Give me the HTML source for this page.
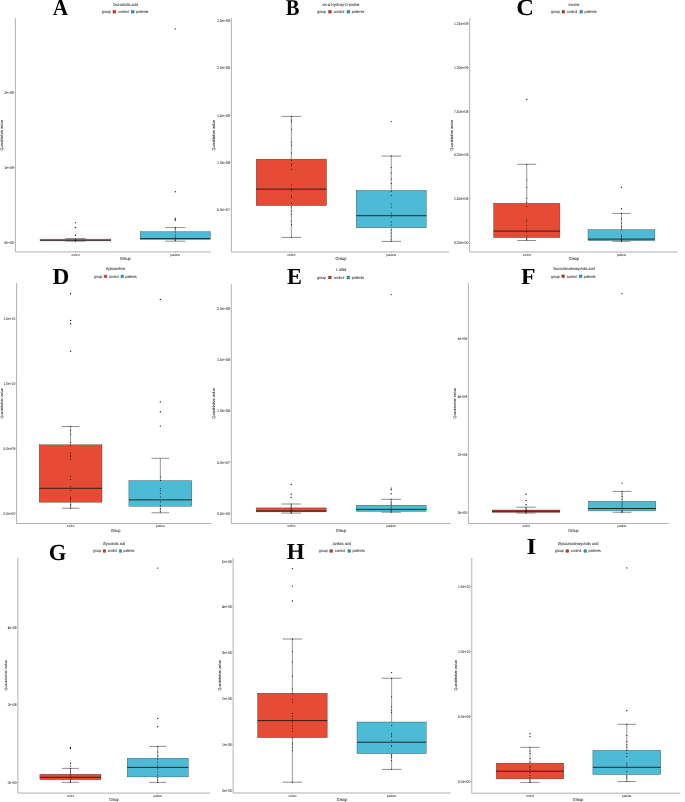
<!DOCTYPE html>
<html><head><meta charset="utf-8"><style>
html,body{margin:0;padding:0;background:#fff;}
svg{display:block;will-change:transform;}
text{text-rendering:geometricPrecision;}
.t{font-family:"Liberation Sans",sans-serif;font-size:3.5px;fill:#2a2a2a;stroke:#2a2a2a;stroke-width:0.04px;}
.t2{font-family:"Liberation Sans",sans-serif;font-size:3.5px;fill:#262626;stroke:#262626;stroke-width:0.04px;}
.x{font-family:"Liberation Sans",sans-serif;font-size:2.7px;fill:#333;stroke:#333;stroke-width:0.04px;}
.a{font-family:"Liberation Sans",sans-serif;font-size:3.85px;fill:#222;stroke:#222;stroke-width:0.05px;}
.L{font-family:"Liberation Serif",serif;font-weight:bold;fill:#000;}
</style></head><body>
<svg width="685" height="802" viewBox="0 0 685 802">
<rect width="685" height="802" fill="#fff"/>
<path d="M15.4 18.1V251.9H211" fill="none" stroke="#a8a8a8" stroke-width="0.9"/>
<path d="M14.2 242.4H15.4" stroke="#a8a8a8" stroke-width="0.6"/>
<text transform="translate(14 243.85) scale(1 1.15)" class="t" text-anchor="end">0e+00</text>
<path d="M14.2 167.4H15.4" stroke="#a8a8a8" stroke-width="0.6"/>
<text transform="translate(14 168.85) scale(1 1.15)" class="t" text-anchor="end">1e+09</text>
<path d="M14.2 92.5H15.4" stroke="#a8a8a8" stroke-width="0.6"/>
<text transform="translate(14 93.95) scale(1 1.15)" class="t" text-anchor="end">2e+09</text>
<path d="M75.45 251.9V253.1" stroke="#a8a8a8" stroke-width="0.6"/>
<text transform="translate(75.45 255.5) scale(1 1.15)" class="x" text-anchor="middle">control</text>
<path d="M175.25 251.9V253.1" stroke="#a8a8a8" stroke-width="0.6"/>
<text transform="translate(175.25 255.5) scale(1 1.15)" class="x" text-anchor="middle">patients</text>
<text transform="translate(125.4 259.85) scale(1 1.15)" class="a" text-anchor="middle">Group</text>
<text transform="translate(2.95 135.3) rotate(-90) scale(1 1)" text-anchor="middle" class="a">Quantitative value</text>
<path d="M75.45 238.6V239.1M75.45 240.9V241.1" stroke="#333" stroke-width="0.5"/>
<path d="M65.25 238.6H85.65M65.25 241.1H85.65" stroke="#444" stroke-width="0.6"/>
<rect x="40.05" y="239.1" width="70.8" height="1.8" fill="#a07a74" stroke="#333" stroke-width="0.35"/>
<path d="M40.05 240.3H110.85" stroke="#3a3232" stroke-width="0.9"/>
<circle cx="75.45" cy="239" r="0.5"/>
<circle cx="75.45" cy="240" r="0.5"/>
<circle cx="75.45" cy="241" r="0.5"/>
<circle cx="75.45" cy="222.6" r="0.7" fill="#222"/>
<circle cx="75.45" cy="227.5" r="0.7" fill="#222"/>
<circle cx="75.45" cy="235.4" r="0.7" fill="#222"/>
<path d="M175.25 227.6V231.7M175.25 239.3V241.2" stroke="#333" stroke-width="0.5"/>
<path d="M165.15 227.6H185.35M165.15 241.2H185.35" stroke="#444" stroke-width="0.6"/>
<rect x="140.2" y="231.7" width="70.1" height="7.6" fill="#4DBBD5" stroke="#333" stroke-width="0.35"/>
<path d="M140.2 238.6H210.3" stroke="#1a1a1a" stroke-width="0.9"/>
<circle cx="175.25" cy="227.6" r="0.5"/>
<circle cx="175.25" cy="229" r="0.5"/>
<circle cx="175.25" cy="232" r="0.5"/>
<circle cx="175.25" cy="235" r="0.5"/>
<circle cx="175.25" cy="237" r="0.5"/>
<circle cx="175.25" cy="239" r="0.5"/>
<circle cx="175.25" cy="240.5" r="0.5"/>
<circle cx="175.25" cy="28.9" r="0.7" fill="#222"/>
<circle cx="175.25" cy="191.7" r="0.7" fill="#222"/>
<circle cx="175.25" cy="218.1" r="0.7" fill="#222"/>
<circle cx="175.25" cy="219.3" r="0.7" fill="#222"/>
<circle cx="175.25" cy="220.2" r="0.7" fill="#222"/>
<text transform="translate(125.4 6.05) scale(1 1.15)" class="t2" text-anchor="middle">Taurocholic acid</text>
<text transform="translate(101.8 13.25) scale(1 1.15)" class="t2">group</text>
<rect x="112.9" y="10.35" width="3" height="2.9" rx="0.45" fill="#c0392b" stroke="#7a2418" stroke-width="0.25"/>
<text transform="translate(118.2 13.25) scale(1 1.15)" class="t2">control</text>
<rect x="131.2" y="10.35" width="3" height="2.9" rx="0.45" fill="#2f95b0" stroke="#1c5f70" stroke-width="0.25"/>
<text transform="translate(136.1 13.25) scale(1 1.15)" class="t2">patients</text>
<text transform="translate(52.69 14.9) scale(0.94 1)" class="L" font-size="22.6">A</text>
<path d="M231.4 18V252H449" fill="none" stroke="#a8a8a8" stroke-width="0.9"/>
<path d="M230.2 20.7H231.4" stroke="#a8a8a8" stroke-width="0.6"/>
<text transform="translate(230 22.15) scale(1.01 1.15)" class="t" text-anchor="end">2.5e+08</text>
<path d="M230.2 68H231.4" stroke="#a8a8a8" stroke-width="0.6"/>
<text transform="translate(230 69.45) scale(1.01 1.15)" class="t" text-anchor="end">2.0e+08</text>
<path d="M230.2 115.3H231.4" stroke="#a8a8a8" stroke-width="0.6"/>
<text transform="translate(230 116.75) scale(1.01 1.15)" class="t" text-anchor="end">1.5e+08</text>
<path d="M230.2 162.6H231.4" stroke="#a8a8a8" stroke-width="0.6"/>
<text transform="translate(230 164.05) scale(1.01 1.15)" class="t" text-anchor="end">1.0e+08</text>
<path d="M230.2 209.9H231.4" stroke="#a8a8a8" stroke-width="0.6"/>
<text transform="translate(230 211.35) scale(1.01 1.15)" class="t" text-anchor="end">5.0e+07</text>
<path d="M291.35 252V253.2" stroke="#a8a8a8" stroke-width="0.6"/>
<text transform="translate(291.35 255.5) scale(1.01 1.15)" class="x" text-anchor="middle">control</text>
<path d="M391.25 252V253.2" stroke="#a8a8a8" stroke-width="0.6"/>
<text transform="translate(391.25 255.5) scale(1.01 1.15)" class="x" text-anchor="middle">patients</text>
<text transform="translate(341 259.85) scale(1.01 1.15)" class="a" text-anchor="middle">Group</text>
<text transform="translate(215.35 135.3) rotate(-90) scale(1 1.01)" text-anchor="middle" class="a">Quantitative value</text>
<path d="M291.35 116.4V159.1M291.35 205.6V237.4" stroke="#333" stroke-width="0.5"/>
<path d="M281.5 116.4H301.2M281.5 237.4H301.2" stroke="#444" stroke-width="0.6"/>
<rect x="256.2" y="159.1" width="70.3" height="46.5" fill="#E64B35" stroke="#333" stroke-width="0.35"/>
<path d="M256.2 189.1H326.5" stroke="#1a1a1a" stroke-width="0.9"/>
<circle cx="291.35" cy="116.4" r="0.5"/>
<circle cx="291.35" cy="120.1" r="0.5"/>
<circle cx="291.35" cy="122.1" r="0.5"/>
<circle cx="291.35" cy="129.3" r="0.5"/>
<circle cx="291.35" cy="142" r="0.5"/>
<circle cx="291.35" cy="145.3" r="0.5"/>
<circle cx="291.35" cy="152.9" r="0.5"/>
<circle cx="291.35" cy="160.5" r="0.5"/>
<circle cx="291.35" cy="163.8" r="0.5"/>
<circle cx="291.35" cy="165.5" r="0.5"/>
<circle cx="291.35" cy="169.2" r="0.5"/>
<circle cx="291.35" cy="184.9" r="0.5"/>
<circle cx="291.35" cy="188.7" r="0.5"/>
<circle cx="291.35" cy="190.8" r="0.5"/>
<circle cx="291.35" cy="195.8" r="0.5"/>
<circle cx="291.35" cy="197.5" r="0.5"/>
<circle cx="291.35" cy="203.4" r="0.5"/>
<circle cx="291.35" cy="206.7" r="0.5"/>
<circle cx="291.35" cy="211" r="0.5"/>
<circle cx="291.35" cy="214.3" r="0.5"/>
<circle cx="291.35" cy="221" r="0.5"/>
<circle cx="291.35" cy="224.4" r="0.5"/>
<circle cx="291.35" cy="237.4" r="0.5"/>
<path d="M391.25 156.1V190.4M391.25 227.8V241.4" stroke="#333" stroke-width="0.5"/>
<path d="M381.45 156.1H401.05M381.45 241.4H401.05" stroke="#444" stroke-width="0.6"/>
<rect x="356.2" y="190.4" width="70.1" height="37.4" fill="#4DBBD5" stroke="#333" stroke-width="0.35"/>
<path d="M356.2 215.7H426.3" stroke="#1a1a1a" stroke-width="0.9"/>
<circle cx="391.25" cy="155.8" r="0.5"/>
<circle cx="391.25" cy="167.4" r="0.5"/>
<circle cx="391.25" cy="173" r="0.5"/>
<circle cx="391.25" cy="179" r="0.5"/>
<circle cx="391.25" cy="183.5" r="0.5"/>
<circle cx="391.25" cy="191.5" r="0.5"/>
<circle cx="391.25" cy="195.5" r="0.5"/>
<circle cx="391.25" cy="204" r="0.5"/>
<circle cx="391.25" cy="207" r="0.5"/>
<circle cx="391.25" cy="213" r="0.5"/>
<circle cx="391.25" cy="215" r="0.5"/>
<circle cx="391.25" cy="217" r="0.5"/>
<circle cx="391.25" cy="222" r="0.5"/>
<circle cx="391.25" cy="225" r="0.5"/>
<circle cx="391.25" cy="230" r="0.5"/>
<circle cx="391.25" cy="233" r="0.5"/>
<circle cx="391.25" cy="236" r="0.5"/>
<circle cx="391.25" cy="239" r="0.5"/>
<circle cx="391.25" cy="241.3" r="0.5"/>
<circle cx="391.25" cy="121.6" r="0.7" fill="#222"/>
<text transform="translate(341 6.35) scale(1.01 1.15)" class="t2" text-anchor="middle">cis-4-Hydroxy-D-proline</text>
<text transform="translate(317.2 13.25) scale(1.01 1.15)" class="t2">group</text>
<rect x="328.41" y="10.35" width="3.03" height="2.9" rx="0.45" fill="#c0392b" stroke="#7a2418" stroke-width="0.25"/>
<text transform="translate(333.76 13.25) scale(1.01 1.15)" class="t2">control</text>
<rect x="346.89" y="10.35" width="3.03" height="2.9" rx="0.45" fill="#2f95b0" stroke="#1c5f70" stroke-width="0.25"/>
<text transform="translate(351.84 13.25) scale(1.01 1.15)" class="t2">patients</text>
<text transform="translate(285.69 14.9) scale(0.91 1)" class="L" font-size="22.5">B</text>
<path d="M469.7 18.3V252H677.6" fill="none" stroke="#a8a8a8" stroke-width="0.9"/>
<path d="M468.5 23.9H469.7" stroke="#a8a8a8" stroke-width="0.6"/>
<text transform="translate(468.3 25.35) scale(0.97 1.15)" class="t" text-anchor="end">1.25e+09</text>
<path d="M468.5 67.6H469.7" stroke="#a8a8a8" stroke-width="0.6"/>
<text transform="translate(468.3 69.05) scale(0.97 1.15)" class="t" text-anchor="end">1.00e+09</text>
<path d="M468.5 111.3H469.7" stroke="#a8a8a8" stroke-width="0.6"/>
<text transform="translate(468.3 112.75) scale(0.97 1.15)" class="t" text-anchor="end">7.50e+08</text>
<path d="M468.5 155H469.7" stroke="#a8a8a8" stroke-width="0.6"/>
<text transform="translate(468.3 156.45) scale(0.97 1.15)" class="t" text-anchor="end">5.00e+08</text>
<path d="M468.5 198.7H469.7" stroke="#a8a8a8" stroke-width="0.6"/>
<text transform="translate(468.3 200.15) scale(0.97 1.15)" class="t" text-anchor="end">2.50e+08</text>
<path d="M468.5 242.4H469.7" stroke="#a8a8a8" stroke-width="0.6"/>
<text transform="translate(468.3 243.85) scale(0.97 1.15)" class="t" text-anchor="end">0.00e+00</text>
<path d="M526.75 252V253.2" stroke="#a8a8a8" stroke-width="0.6"/>
<text transform="translate(526.75 255.5) scale(0.97 1.15)" class="x" text-anchor="middle">control</text>
<path d="M621.45 252V253.2" stroke="#a8a8a8" stroke-width="0.6"/>
<text transform="translate(621.45 255.5) scale(0.97 1.15)" class="x" text-anchor="middle">patients</text>
<text transform="translate(574 259.85) scale(0.97 1.15)" class="a" text-anchor="middle">Group</text>
<text transform="translate(452.75 135.3) rotate(-90) scale(1 0.97)" text-anchor="middle" class="a">Quantitative value</text>
<path d="M526.75 164.3V203.3M526.75 237.6V240.5" stroke="#333" stroke-width="0.5"/>
<path d="M517.35 164.3H536.15M517.35 240.5H536.15" stroke="#444" stroke-width="0.6"/>
<rect x="493.6" y="203.3" width="66.3" height="34.3" fill="#E64B35" stroke="#333" stroke-width="0.35"/>
<path d="M493.6 231.1H559.9" stroke="#1a1a1a" stroke-width="0.9"/>
<circle cx="526.75" cy="164.3" r="0.5"/>
<circle cx="526.75" cy="180" r="0.5"/>
<circle cx="526.75" cy="187.2" r="0.5"/>
<circle cx="526.75" cy="198.2" r="0.5"/>
<circle cx="526.75" cy="202.6" r="0.5"/>
<circle cx="526.75" cy="206.6" r="0.5"/>
<circle cx="526.75" cy="219.3" r="0.5"/>
<circle cx="526.75" cy="221.5" r="0.5"/>
<circle cx="526.75" cy="225.2" r="0.5"/>
<circle cx="526.75" cy="228.8" r="0.5"/>
<circle cx="526.75" cy="231.8" r="0.5"/>
<circle cx="526.75" cy="236.1" r="0.5"/>
<circle cx="526.75" cy="238.3" r="0.5"/>
<circle cx="526.75" cy="239.8" r="0.5"/>
<circle cx="526.75" cy="99.4" r="0.7" fill="#222"/>
<path d="M621.45 213.4V229.6M621.45 240.6V241.3" stroke="#333" stroke-width="0.5"/>
<path d="M612.15 213.4H630.75M612.15 241.3H630.75" stroke="#444" stroke-width="0.6"/>
<rect x="588" y="229.6" width="66.9" height="11" fill="#4DBBD5" stroke="#333" stroke-width="0.35"/>
<path d="M588 239.1H654.9" stroke="#1a1a1a" stroke-width="0.9"/>
<circle cx="621.45" cy="213.4" r="0.5"/>
<circle cx="621.45" cy="219" r="0.5"/>
<circle cx="621.45" cy="223" r="0.5"/>
<circle cx="621.45" cy="226.5" r="0.5"/>
<circle cx="621.45" cy="230" r="0.5"/>
<circle cx="621.45" cy="235" r="0.5"/>
<circle cx="621.45" cy="236.5" r="0.5"/>
<circle cx="621.45" cy="238" r="0.5"/>
<circle cx="621.45" cy="239.5" r="0.5"/>
<circle cx="621.45" cy="240.5" r="0.5"/>
<circle cx="621.45" cy="241.3" r="0.5"/>
<circle cx="621.45" cy="187.3" r="0.7" fill="#222"/>
<circle cx="621.45" cy="208.8" r="0.7" fill="#222"/>
<text transform="translate(574 6.05) scale(0.97 1.15)" class="t2" text-anchor="middle">Inosine</text>
<text transform="translate(551.1 13.25) scale(0.97 1.15)" class="t2">group</text>
<rect x="561.92" y="10.35" width="2.92" height="2.9" rx="0.45" fill="#c0392b" stroke="#7a2418" stroke-width="0.25"/>
<text transform="translate(567.09 13.25) scale(0.97 1.15)" class="t2">control</text>
<rect x="579.76" y="10.35" width="2.92" height="2.9" rx="0.45" fill="#2f95b0" stroke="#1c5f70" stroke-width="0.25"/>
<text transform="translate(584.54 13.25) scale(0.97 1.15)" class="t2">patients</text>
<text transform="translate(516.17 15.3) scale(1.06 1)" class="L" font-size="23.1">C</text>
<path d="M16.6 283V523.5H211.3" fill="none" stroke="#a8a8a8" stroke-width="0.9"/>
<path d="M15.4 318.7H16.6" stroke="#a8a8a8" stroke-width="0.6"/>
<text transform="translate(15.2 320.15) scale(0.92 1.15)" class="t" text-anchor="end">1.5e+10</text>
<path d="M15.4 383.6H16.6" stroke="#a8a8a8" stroke-width="0.6"/>
<text transform="translate(15.2 385.05) scale(0.92 1.15)" class="t" text-anchor="end">1.0e+10</text>
<path d="M15.4 448.5H16.6" stroke="#a8a8a8" stroke-width="0.6"/>
<text transform="translate(15.2 449.95) scale(0.92 1.15)" class="t" text-anchor="end">5.0e+09</text>
<path d="M15.4 513.4H16.6" stroke="#a8a8a8" stroke-width="0.6"/>
<text transform="translate(15.2 514.85) scale(0.92 1.15)" class="t" text-anchor="end">0.0e+00</text>
<path d="M70.6 523.5V524.7" stroke="#a8a8a8" stroke-width="0.6"/>
<text transform="translate(70.6 527.2) scale(0.92 1.15)" class="x" text-anchor="middle">control</text>
<path d="M160.35 523.5V524.7" stroke="#a8a8a8" stroke-width="0.6"/>
<text transform="translate(160.35 527.2) scale(0.92 1.15)" class="x" text-anchor="middle">patients</text>
<text transform="translate(115.6 531.75) scale(0.92 1.15)" class="a" text-anchor="middle">Group</text>
<text transform="translate(3.1 403.4) rotate(-90) scale(1 0.92)" text-anchor="middle" class="a">Quantitative value</text>
<path d="M70.6 426.5V444.8M70.6 502.2V508.2" stroke="#333" stroke-width="0.5"/>
<path d="M61.8 426.5H79.4M61.8 508.2H79.4" stroke="#444" stroke-width="0.6"/>
<rect x="39.2" y="444.8" width="62.8" height="57.4" fill="#E64B35" stroke="#333" stroke-width="0.35"/>
<path d="M39.2 488.3H102" stroke="#1a1a1a" stroke-width="0.9"/>
<circle cx="70.6" cy="426.4" r="0.5"/>
<circle cx="70.6" cy="430.5" r="0.5"/>
<circle cx="70.6" cy="434.3" r="0.5"/>
<circle cx="70.6" cy="442.3" r="0.5"/>
<circle cx="70.6" cy="445.5" r="0.5"/>
<circle cx="70.6" cy="453.3" r="0.5"/>
<circle cx="70.6" cy="455.8" r="0.5"/>
<circle cx="70.6" cy="456.8" r="0.5"/>
<circle cx="70.6" cy="459.1" r="0.5"/>
<circle cx="70.6" cy="476.2" r="0.5"/>
<circle cx="70.6" cy="479.6" r="0.5"/>
<circle cx="70.6" cy="486.4" r="0.5"/>
<circle cx="70.6" cy="490.5" r="0.5"/>
<circle cx="70.6" cy="496.9" r="0.5"/>
<circle cx="70.6" cy="498.1" r="0.5"/>
<circle cx="70.6" cy="499.6" r="0.5"/>
<circle cx="70.6" cy="501.8" r="0.5"/>
<circle cx="70.6" cy="504.4" r="0.5"/>
<circle cx="70.6" cy="506.1" r="0.5"/>
<circle cx="70.6" cy="508.2" r="0.5"/>
<circle cx="70.6" cy="293.7" r="0.7" fill="#222"/>
<circle cx="70.6" cy="320.4" r="0.7" fill="#222"/>
<circle cx="70.6" cy="323.7" r="0.7" fill="#222"/>
<circle cx="70.6" cy="351.3" r="0.7" fill="#222"/>
<path d="M160.35 458.3V480.6M160.35 506.2V512.8" stroke="#333" stroke-width="0.5"/>
<path d="M151.5 458.3H169.2M151.5 512.8H169.2" stroke="#444" stroke-width="0.6"/>
<rect x="128.9" y="480.6" width="62.9" height="25.6" fill="#4DBBD5" stroke="#333" stroke-width="0.35"/>
<path d="M128.9 499.9H191.8" stroke="#1a1a1a" stroke-width="0.9"/>
<circle cx="160.35" cy="477.1" r="0.5"/>
<circle cx="160.35" cy="480.6" r="0.5"/>
<circle cx="160.35" cy="488.6" r="0.5"/>
<circle cx="160.35" cy="490.7" r="0.5"/>
<circle cx="160.35" cy="493.4" r="0.5"/>
<circle cx="160.35" cy="496.9" r="0.5"/>
<circle cx="160.35" cy="502.1" r="0.5"/>
<circle cx="160.35" cy="505.6" r="0.5"/>
<circle cx="160.35" cy="509.1" r="0.5"/>
<circle cx="160.35" cy="511.8" r="0.5"/>
<circle cx="160.35" cy="299.5" r="0.7" fill="#222"/>
<circle cx="160.35" cy="401.9" r="0.7" fill="#222"/>
<circle cx="160.35" cy="411.8" r="0.7" fill="#222"/>
<circle cx="160.35" cy="426.1" r="0.7" fill="#222"/>
<text transform="translate(115.55 270.05) scale(0.92 1.15)" class="t2" text-anchor="middle">Hypoxanthine</text>
<text transform="translate(94 277.85) scale(0.92 1.15)" class="t2">group</text>
<rect x="104.16" y="274.95" width="2.75" height="2.9" rx="0.45" fill="#c0392b" stroke="#7a2418" stroke-width="0.25"/>
<text transform="translate(109.01 277.85) scale(0.92 1.15)" class="t2">control</text>
<rect x="120.9" y="274.95" width="2.75" height="2.9" rx="0.45" fill="#2f95b0" stroke="#1c5f70" stroke-width="0.25"/>
<text transform="translate(125.38 277.85) scale(0.92 1.15)" class="t2">patients</text>
<text transform="translate(52.44 283.9) scale(1.01 1)" class="L" font-size="23.1">D</text>
<path d="M231.3 284.1V523.6H450.7" fill="none" stroke="#a8a8a8" stroke-width="0.9"/>
<path d="M230.1 308.6H231.3" stroke="#a8a8a8" stroke-width="0.6"/>
<text transform="translate(229.9 310.05) scale(1.01 1.15)" class="t" text-anchor="end">2.0e+08</text>
<path d="M230.1 359.8H231.3" stroke="#a8a8a8" stroke-width="0.6"/>
<text transform="translate(229.9 361.25) scale(1.01 1.15)" class="t" text-anchor="end">1.5e+08</text>
<path d="M230.1 411H231.3" stroke="#a8a8a8" stroke-width="0.6"/>
<text transform="translate(229.9 412.45) scale(1.01 1.15)" class="t" text-anchor="end">1.0e+08</text>
<path d="M230.1 462.2H231.3" stroke="#a8a8a8" stroke-width="0.6"/>
<text transform="translate(229.9 463.65) scale(1.01 1.15)" class="t" text-anchor="end">5.0e+07</text>
<path d="M230.1 513.4H231.3" stroke="#a8a8a8" stroke-width="0.6"/>
<text transform="translate(229.9 514.85) scale(1.01 1.15)" class="t" text-anchor="end">0.0e+00</text>
<path d="M291.2 523.6V524.8" stroke="#a8a8a8" stroke-width="0.6"/>
<text transform="translate(291.2 527.2) scale(1.01 1.15)" class="x" text-anchor="middle">control</text>
<path d="M391.2 523.6V524.8" stroke="#a8a8a8" stroke-width="0.6"/>
<text transform="translate(391.2 527.2) scale(1.01 1.15)" class="x" text-anchor="middle">patients</text>
<text transform="translate(341.1 531.75) scale(1.01 1.15)" class="a" text-anchor="middle">Group</text>
<text transform="translate(215.25 403.5) rotate(-90) scale(1 1.01)" text-anchor="middle" class="a">Quantitative value</text>
<path d="M291.2 504V507.9M291.2 511.9V513.1" stroke="#333" stroke-width="0.5"/>
<path d="M281.35 504H301.05M281.35 513.1H301.05" stroke="#444" stroke-width="0.6"/>
<rect x="256.2" y="507.9" width="70" height="4" fill="#E64B35" stroke="#333" stroke-width="0.35"/>
<path d="M256.2 511H326.2" stroke="#1a1a1a" stroke-width="0.9"/>
<circle cx="291.2" cy="504" r="0.5"/>
<circle cx="291.2" cy="506" r="0.5"/>
<circle cx="291.2" cy="508" r="0.5"/>
<circle cx="291.2" cy="509.5" r="0.5"/>
<circle cx="291.2" cy="511" r="0.5"/>
<circle cx="291.2" cy="512" r="0.5"/>
<circle cx="291.2" cy="513.1" r="0.5"/>
<circle cx="291.2" cy="484.5" r="0.7" fill="#222"/>
<circle cx="291.2" cy="494.3" r="0.7" fill="#222"/>
<circle cx="291.2" cy="497.5" r="0.7" fill="#222"/>
<path d="M391.2 499.3V505.2M391.2 511.4V512.2" stroke="#333" stroke-width="0.5"/>
<path d="M381.35 499.3H401.05M381.35 512.2H401.05" stroke="#444" stroke-width="0.6"/>
<rect x="356.2" y="505.2" width="70" height="6.2" fill="#4DBBD5" stroke="#333" stroke-width="0.35"/>
<path d="M356.2 509.4H426.2" stroke="#1a1a1a" stroke-width="0.9"/>
<circle cx="391.2" cy="499.3" r="0.5"/>
<circle cx="391.2" cy="502" r="0.5"/>
<circle cx="391.2" cy="504" r="0.5"/>
<circle cx="391.2" cy="506" r="0.5"/>
<circle cx="391.2" cy="508" r="0.5"/>
<circle cx="391.2" cy="510" r="0.5"/>
<circle cx="391.2" cy="511" r="0.5"/>
<circle cx="391.2" cy="512.2" r="0.5"/>
<circle cx="391.2" cy="294.6" r="0.7" fill="#222"/>
<circle cx="391.2" cy="488.1" r="0.7" fill="#222"/>
<circle cx="391.2" cy="489.7" r="0.7" fill="#222"/>
<circle cx="391.2" cy="493.8" r="0.7" fill="#222"/>
<text transform="translate(341.1 271.15) scale(1.01 1.15)" class="t2" text-anchor="middle">L-Iditol</text>
<text transform="translate(317.1 278.95) scale(1.01 1.15)" class="t2">group</text>
<rect x="328.31" y="276.05" width="3.03" height="2.9" rx="0.45" fill="#c0392b" stroke="#7a2418" stroke-width="0.25"/>
<text transform="translate(333.66 278.95) scale(1.01 1.15)" class="t2">control</text>
<rect x="346.79" y="276.05" width="3.03" height="2.9" rx="0.45" fill="#2f95b0" stroke="#1c5f70" stroke-width="0.25"/>
<text transform="translate(351.74 278.95) scale(1.01 1.15)" class="t2">patients</text>
<text transform="translate(286.95 283.8) scale(0.97 1)" class="L" font-size="23.1">E</text>
<path d="M468.4 283V523.5H668.9" fill="none" stroke="#a8a8a8" stroke-width="0.9"/>
<path d="M467.2 338.3H468.4" stroke="#a8a8a8" stroke-width="0.6"/>
<text transform="translate(467 339.75) scale(0.95 1.15)" class="t" text-anchor="end">6e+08</text>
<path d="M467.2 396.5H468.4" stroke="#a8a8a8" stroke-width="0.6"/>
<text transform="translate(467 397.95) scale(0.95 1.15)" class="t" text-anchor="end">4e+08</text>
<path d="M467.2 454.7H468.4" stroke="#a8a8a8" stroke-width="0.6"/>
<text transform="translate(467 456.15) scale(0.95 1.15)" class="t" text-anchor="end">2e+08</text>
<path d="M467.2 512.9H468.4" stroke="#a8a8a8" stroke-width="0.6"/>
<text transform="translate(467 514.35) scale(0.95 1.15)" class="t" text-anchor="end">0e+00</text>
<path d="M526.05 523.5V524.7" stroke="#a8a8a8" stroke-width="0.6"/>
<text transform="translate(526.05 527.2) scale(0.95 1.15)" class="x" text-anchor="middle">control</text>
<path d="M622.05 523.5V524.7" stroke="#a8a8a8" stroke-width="0.6"/>
<text transform="translate(622.05 527.2) scale(0.95 1.15)" class="x" text-anchor="middle">patients</text>
<text transform="translate(573.4 531.75) scale(0.95 1.15)" class="a" text-anchor="middle">Group</text>
<text transform="translate(456.35 403.4) rotate(-90) scale(1 0.95)" text-anchor="middle" class="a">Quantitative value</text>
<path d="M526.05 507.2V510M526.05 512.4V513.1" stroke="#333" stroke-width="0.5"/>
<path d="M516.4 507.2H535.7M516.4 513.1H535.7" stroke="#444" stroke-width="0.6"/>
<rect x="492.2" y="510" width="67.7" height="2.4" fill="#E64B35" stroke="#333" stroke-width="0.35"/>
<path d="M492.2 511.2H559.9" stroke="#1a1a1a" stroke-width="0.9"/>
<circle cx="526.05" cy="507.2" r="0.5"/>
<circle cx="526.05" cy="509" r="0.5"/>
<circle cx="526.05" cy="510" r="0.5"/>
<circle cx="526.05" cy="511" r="0.5"/>
<circle cx="526.05" cy="512" r="0.5"/>
<circle cx="526.05" cy="513.1" r="0.5"/>
<circle cx="526.05" cy="494.3" r="0.7" fill="#222"/>
<circle cx="526.05" cy="500.4" r="0.7" fill="#222"/>
<circle cx="526.05" cy="504.7" r="0.7" fill="#222"/>
<path d="M622.05 491.4V501.3M622.05 510.9V512.3" stroke="#333" stroke-width="0.5"/>
<path d="M612.7 491.4H631.4M612.7 512.3H631.4" stroke="#444" stroke-width="0.6"/>
<rect x="588.3" y="501.3" width="67.5" height="9.6" fill="#4DBBD5" stroke="#333" stroke-width="0.35"/>
<path d="M588.3 508.5H655.8" stroke="#1a1a1a" stroke-width="0.9"/>
<circle cx="622.05" cy="491.4" r="0.5"/>
<circle cx="622.05" cy="494" r="0.5"/>
<circle cx="622.05" cy="496.5" r="0.5"/>
<circle cx="622.05" cy="499" r="0.5"/>
<circle cx="622.05" cy="502" r="0.5"/>
<circle cx="622.05" cy="504" r="0.5"/>
<circle cx="622.05" cy="506" r="0.5"/>
<circle cx="622.05" cy="508" r="0.5"/>
<circle cx="622.05" cy="510" r="0.5"/>
<circle cx="622.05" cy="511.5" r="0.5"/>
<circle cx="622.05" cy="512.3" r="0.5"/>
<circle cx="622.05" cy="293.6" r="0.7" fill="#222"/>
<circle cx="622.05" cy="483.1" r="0.7" fill="#222"/>
<text transform="translate(573.8 270.05) scale(0.95 1.15)" class="t2" text-anchor="middle">Taurochenodeoxycholic acid</text>
<text transform="translate(551.1 277.65) scale(0.95 1.15)" class="t2">group</text>
<rect x="561.7" y="274.75" width="2.86" height="2.9" rx="0.45" fill="#c0392b" stroke="#7a2418" stroke-width="0.25"/>
<text transform="translate(566.76 277.65) scale(0.95 1.15)" class="t2">control</text>
<rect x="579.18" y="274.75" width="2.86" height="2.9" rx="0.45" fill="#2f95b0" stroke="#1c5f70" stroke-width="0.25"/>
<text transform="translate(583.86 277.65) scale(0.95 1.15)" class="t2">patients</text>
<text transform="translate(520.93 283.9) scale(1.03 1)" class="L" font-size="23.1">F</text>
<path d="M17.9 557.5V793.1H210" fill="none" stroke="#a8a8a8" stroke-width="0.9"/>
<path d="M16.7 627.3H17.9" stroke="#a8a8a8" stroke-width="0.6"/>
<text transform="translate(16.5 628.75) scale(0.88 1.15)" class="t" text-anchor="end">4e+08</text>
<path d="M16.7 704.9H17.9" stroke="#a8a8a8" stroke-width="0.6"/>
<text transform="translate(16.5 706.35) scale(0.88 1.15)" class="t" text-anchor="end">2e+08</text>
<path d="M16.7 782.5H17.9" stroke="#a8a8a8" stroke-width="0.6"/>
<text transform="translate(16.5 783.95) scale(0.88 1.15)" class="t" text-anchor="end">0e+00</text>
<path d="M70.45 793.1V794.3" stroke="#a8a8a8" stroke-width="0.6"/>
<text transform="translate(70.45 796.7) scale(0.88 1.15)" class="x" text-anchor="middle">control</text>
<path d="M157.75 793.1V794.3" stroke="#a8a8a8" stroke-width="0.6"/>
<text transform="translate(157.75 796.7) scale(0.88 1.15)" class="x" text-anchor="middle">patients</text>
<text transform="translate(113.9 801.05) scale(0.88 1.15)" class="a" text-anchor="middle">Group</text>
<text transform="translate(6.85 675.4) rotate(-90) scale(1 0.88)" text-anchor="middle" class="a">Quantitative value</text>
<path d="M70.45 768.4V774.2M70.45 779.7V782.3" stroke="#333" stroke-width="0.5"/>
<path d="M61.9 768.4H79M61.9 782.3H79" stroke="#444" stroke-width="0.6"/>
<rect x="39.9" y="774.2" width="61.1" height="5.5" fill="#E64B35" stroke="#333" stroke-width="0.35"/>
<path d="M39.9 777.3H101" stroke="#1a1a1a" stroke-width="0.9"/>
<circle cx="70.45" cy="768.4" r="0.5"/>
<circle cx="70.45" cy="771" r="0.5"/>
<circle cx="70.45" cy="773" r="0.5"/>
<circle cx="70.45" cy="775" r="0.5"/>
<circle cx="70.45" cy="777" r="0.5"/>
<circle cx="70.45" cy="779" r="0.5"/>
<circle cx="70.45" cy="781" r="0.5"/>
<circle cx="70.45" cy="782.3" r="0.5"/>
<circle cx="70.45" cy="747.5" r="0.7" fill="#222"/>
<circle cx="70.45" cy="748.5" r="0.7" fill="#222"/>
<circle cx="70.45" cy="763.2" r="0.7" fill="#222"/>
<circle cx="70.45" cy="766.1" r="0.7" fill="#222"/>
<path d="M157.75 746.4V758.2M157.75 776.9V782.4" stroke="#333" stroke-width="0.5"/>
<path d="M149.25 746.4H166.25M149.25 782.4H166.25" stroke="#444" stroke-width="0.6"/>
<rect x="127.2" y="758.2" width="61.1" height="18.7" fill="#4DBBD5" stroke="#333" stroke-width="0.35"/>
<path d="M127.2 767.4H188.3" stroke="#1a1a1a" stroke-width="0.9"/>
<circle cx="157.75" cy="746.4" r="0.5"/>
<circle cx="157.75" cy="752" r="0.5"/>
<circle cx="157.75" cy="756" r="0.5"/>
<circle cx="157.75" cy="759" r="0.5"/>
<circle cx="157.75" cy="762" r="0.5"/>
<circle cx="157.75" cy="765" r="0.5"/>
<circle cx="157.75" cy="767" r="0.5"/>
<circle cx="157.75" cy="769" r="0.5"/>
<circle cx="157.75" cy="772" r="0.5"/>
<circle cx="157.75" cy="775" r="0.5"/>
<circle cx="157.75" cy="777.5" r="0.5"/>
<circle cx="157.75" cy="780" r="0.5"/>
<circle cx="157.75" cy="782.4" r="0.5"/>
<circle cx="157.75" cy="568.1" r="0.7" fill="#222"/>
<circle cx="157.75" cy="718.4" r="0.7" fill="#222"/>
<circle cx="157.75" cy="726.7" r="0.7" fill="#222"/>
<text transform="translate(114.15 545.05) scale(0.88 1.15)" class="t2" text-anchor="middle">Glycocholic acid</text>
<text transform="translate(93.3 552.45) scale(0.88 1.15)" class="t2">group</text>
<rect x="103.07" y="549.55" width="2.64" height="2.9" rx="0.45" fill="#c0392b" stroke="#7a2418" stroke-width="0.25"/>
<text transform="translate(107.73 552.45) scale(0.88 1.15)" class="t2">control</text>
<rect x="119.17" y="549.55" width="2.64" height="2.9" rx="0.45" fill="#2f95b0" stroke="#1c5f70" stroke-width="0.25"/>
<text transform="translate(123.48 552.45) scale(0.88 1.15)" class="t2">patients</text>
<text transform="translate(48.77 560.4) scale(0.98 1)" class="L" font-size="23.1">G</text>
<path d="M233.1 557.8V793H450.7" fill="none" stroke="#a8a8a8" stroke-width="0.9"/>
<path d="M231.9 561.1H233.1" stroke="#a8a8a8" stroke-width="0.6"/>
<text transform="translate(231.7 562.55) scale(0.98 1.15)" class="t" text-anchor="end">5e+08</text>
<path d="M231.9 606.9H233.1" stroke="#a8a8a8" stroke-width="0.6"/>
<text transform="translate(231.7 608.35) scale(0.98 1.15)" class="t" text-anchor="end">4e+08</text>
<path d="M231.9 652.8H233.1" stroke="#a8a8a8" stroke-width="0.6"/>
<text transform="translate(231.7 654.25) scale(0.98 1.15)" class="t" text-anchor="end">3e+08</text>
<path d="M231.9 698.8H233.1" stroke="#a8a8a8" stroke-width="0.6"/>
<text transform="translate(231.7 700.25) scale(0.98 1.15)" class="t" text-anchor="end">2e+08</text>
<path d="M231.9 744.7H233.1" stroke="#a8a8a8" stroke-width="0.6"/>
<text transform="translate(231.7 746.15) scale(0.98 1.15)" class="t" text-anchor="end">1e+08</text>
<path d="M231.9 790.6H233.1" stroke="#a8a8a8" stroke-width="0.6"/>
<text transform="translate(231.7 792.05) scale(0.98 1.15)" class="t" text-anchor="end">0e+00</text>
<path d="M292.4 793V794.2" stroke="#a8a8a8" stroke-width="0.6"/>
<text transform="translate(292.4 796.5) scale(0.98 1.15)" class="x" text-anchor="middle">control</text>
<path d="M391.6 793V794.2" stroke="#a8a8a8" stroke-width="0.6"/>
<text transform="translate(391.6 796.5) scale(0.98 1.15)" class="x" text-anchor="middle">patients</text>
<text transform="translate(342 800.95) scale(0.98 1.15)" class="a" text-anchor="middle">Group</text>
<text transform="translate(220.75 675.4) rotate(-90) scale(1 0.98)" text-anchor="middle" class="a">Quantitative value</text>
<path d="M292.4 639V693.2M292.4 737.7V782.2" stroke="#333" stroke-width="0.5"/>
<path d="M282.7 639H302.1M282.7 782.2H302.1" stroke="#444" stroke-width="0.6"/>
<rect x="257.6" y="693.2" width="69.6" height="44.5" fill="#E64B35" stroke="#333" stroke-width="0.35"/>
<path d="M257.6 720.6H327.2" stroke="#1a1a1a" stroke-width="0.9"/>
<circle cx="292.4" cy="639" r="0.5"/>
<circle cx="292.4" cy="651.5" r="0.5"/>
<circle cx="292.4" cy="661.9" r="0.5"/>
<circle cx="292.4" cy="676.3" r="0.5"/>
<circle cx="292.4" cy="688.9" r="0.5"/>
<circle cx="292.4" cy="693.8" r="0.5"/>
<circle cx="292.4" cy="699.8" r="0.5"/>
<circle cx="292.4" cy="702.2" r="0.5"/>
<circle cx="292.4" cy="713.4" r="0.5"/>
<circle cx="292.4" cy="716.2" r="0.5"/>
<circle cx="292.4" cy="718.8" r="0.5"/>
<circle cx="292.4" cy="720.8" r="0.5"/>
<circle cx="292.4" cy="722.8" r="0.5"/>
<circle cx="292.4" cy="725.8" r="0.5"/>
<circle cx="292.4" cy="728.2" r="0.5"/>
<circle cx="292.4" cy="731.3" r="0.5"/>
<circle cx="292.4" cy="737.7" r="0.5"/>
<circle cx="292.4" cy="742.7" r="0.5"/>
<circle cx="292.4" cy="744.7" r="0.5"/>
<circle cx="292.4" cy="747.7" r="0.5"/>
<circle cx="292.4" cy="750.7" r="0.5"/>
<circle cx="292.4" cy="782.2" r="0.5"/>
<circle cx="292.4" cy="568.6" r="0.7" fill="#222"/>
<circle cx="292.4" cy="586.1" r="0.7" fill="#222"/>
<circle cx="292.4" cy="601" r="0.7" fill="#222"/>
<path d="M391.6 678.2V722M391.6 753.7V769.4" stroke="#333" stroke-width="0.5"/>
<path d="M381.7 678.2H401.5M381.7 769.4H401.5" stroke="#444" stroke-width="0.6"/>
<rect x="357" y="722" width="69.2" height="31.7" fill="#4DBBD5" stroke="#333" stroke-width="0.35"/>
<path d="M357 742.2H426.2" stroke="#1a1a1a" stroke-width="0.9"/>
<circle cx="391.6" cy="678.2" r="0.5"/>
<circle cx="391.6" cy="696.7" r="0.5"/>
<circle cx="391.6" cy="706.8" r="0.5"/>
<circle cx="391.6" cy="710.3" r="0.5"/>
<circle cx="391.6" cy="712.4" r="0.5"/>
<circle cx="391.6" cy="725.5" r="0.5"/>
<circle cx="391.6" cy="733.3" r="0.5"/>
<circle cx="391.6" cy="735.1" r="0.5"/>
<circle cx="391.6" cy="736.8" r="0.5"/>
<circle cx="391.6" cy="740.3" r="0.5"/>
<circle cx="391.6" cy="745.5" r="0.5"/>
<circle cx="391.6" cy="746.4" r="0.5"/>
<circle cx="391.6" cy="754.3" r="0.5"/>
<circle cx="391.6" cy="755.7" r="0.5"/>
<circle cx="391.6" cy="757.7" r="0.5"/>
<circle cx="391.6" cy="760.4" r="0.5"/>
<circle cx="391.6" cy="769.4" r="0.5"/>
<circle cx="391.6" cy="672.6" r="0.7" fill="#222"/>
<text transform="translate(341.8 545.05) scale(0.98 1.15)" class="t2" text-anchor="middle">Azelaic acid</text>
<text transform="translate(318.8 552.45) scale(0.98 1.15)" class="t2">group</text>
<rect x="329.73" y="549.55" width="2.96" height="2.9" rx="0.45" fill="#c0392b" stroke="#7a2418" stroke-width="0.25"/>
<text transform="translate(334.95 552.45) scale(0.98 1.15)" class="t2">control</text>
<rect x="347.76" y="549.55" width="2.96" height="2.9" rx="0.45" fill="#2f95b0" stroke="#1c5f70" stroke-width="0.25"/>
<text transform="translate(352.59 552.45) scale(0.98 1.15)" class="t2">patients</text>
<text transform="translate(286.64 558.9) scale(0.99 1)" class="L" font-size="23.1">H</text>
<path d="M471.8 557.9V793.2H680.3" fill="none" stroke="#a8a8a8" stroke-width="0.9"/>
<path d="M470.6 586.5H471.8" stroke="#a8a8a8" stroke-width="0.6"/>
<text transform="translate(470.4 587.95) scale(0.98 1.15)" class="t" text-anchor="end">1.5e+10</text>
<path d="M470.6 651.5H471.8" stroke="#a8a8a8" stroke-width="0.6"/>
<text transform="translate(470.4 652.95) scale(0.98 1.15)" class="t" text-anchor="end">1.0e+10</text>
<path d="M470.6 716.6H471.8" stroke="#a8a8a8" stroke-width="0.6"/>
<text transform="translate(470.4 718.05) scale(0.98 1.15)" class="t" text-anchor="end">5.0e+09</text>
<path d="M470.6 781.8H471.8" stroke="#a8a8a8" stroke-width="0.6"/>
<text transform="translate(470.4 783.25) scale(0.98 1.15)" class="t" text-anchor="end">0.0e+00</text>
<path d="M530 793.2V794.4" stroke="#a8a8a8" stroke-width="0.6"/>
<text transform="translate(530 796.8) scale(0.98 1.15)" class="x" text-anchor="middle">control</text>
<path d="M626.8 793.2V794.4" stroke="#a8a8a8" stroke-width="0.6"/>
<text transform="translate(626.8 796.8) scale(0.98 1.15)" class="x" text-anchor="middle">patients</text>
<text transform="translate(578 801.25) scale(0.98 1.15)" class="a" text-anchor="middle">Group</text>
<text transform="translate(456.65 675.4) rotate(-90) scale(1 0.98)" text-anchor="middle" class="a">Quantitative value</text>
<path d="M530 747.3V763.1M530 778.9V782.4" stroke="#333" stroke-width="0.5"/>
<path d="M520.35 747.3H539.65M520.35 782.4H539.65" stroke="#444" stroke-width="0.6"/>
<rect x="496.2" y="763.1" width="67.6" height="15.8" fill="#E64B35" stroke="#333" stroke-width="0.35"/>
<path d="M496.2 771.2H563.8" stroke="#1a1a1a" stroke-width="0.9"/>
<circle cx="530" cy="747.3" r="0.5"/>
<circle cx="530" cy="750.9" r="0.5"/>
<circle cx="530" cy="753.5" r="0.5"/>
<circle cx="530" cy="758.4" r="0.5"/>
<circle cx="530" cy="762" r="0.5"/>
<circle cx="530" cy="766" r="0.5"/>
<circle cx="530" cy="767.3" r="0.5"/>
<circle cx="530" cy="769.3" r="0.5"/>
<circle cx="530" cy="772.6" r="0.5"/>
<circle cx="530" cy="775.2" r="0.5"/>
<circle cx="530" cy="777.8" r="0.5"/>
<circle cx="530" cy="779.8" r="0.5"/>
<circle cx="530" cy="781.1" r="0.5"/>
<circle cx="530" cy="782.4" r="0.5"/>
<circle cx="530" cy="733.8" r="0.7" fill="#222"/>
<circle cx="530" cy="736.4" r="0.7" fill="#222"/>
<path d="M626.8 724.3V750.3M626.8 774.5V781.5" stroke="#333" stroke-width="0.5"/>
<path d="M617.4 724.3H636.2M617.4 781.5H636.2" stroke="#444" stroke-width="0.6"/>
<rect x="592.9" y="750.3" width="67.8" height="24.2" fill="#4DBBD5" stroke="#333" stroke-width="0.35"/>
<path d="M592.9 767.3H660.7" stroke="#1a1a1a" stroke-width="0.9"/>
<circle cx="626.8" cy="724.3" r="0.5"/>
<circle cx="626.8" cy="735.5" r="0.5"/>
<circle cx="626.8" cy="741.4" r="0.5"/>
<circle cx="626.8" cy="744.7" r="0.5"/>
<circle cx="626.8" cy="747.3" r="0.5"/>
<circle cx="626.8" cy="750.6" r="0.5"/>
<circle cx="626.8" cy="753.2" r="0.5"/>
<circle cx="626.8" cy="756.5" r="0.5"/>
<circle cx="626.8" cy="763.1" r="0.5"/>
<circle cx="626.8" cy="765" r="0.5"/>
<circle cx="626.8" cy="767.7" r="0.5"/>
<circle cx="626.8" cy="771.6" r="0.5"/>
<circle cx="626.8" cy="774.9" r="0.5"/>
<circle cx="626.8" cy="776.9" r="0.5"/>
<circle cx="626.8" cy="778.8" r="0.5"/>
<circle cx="626.8" cy="781.5" r="0.5"/>
<circle cx="626.8" cy="567.9" r="0.7" fill="#222"/>
<circle cx="626.8" cy="710.8" r="0.7" fill="#222"/>
<text transform="translate(578 545.05) scale(0.98 1.15)" class="t2" text-anchor="middle">Glycoursodeoxycholic acid</text>
<text transform="translate(555 552.45) scale(0.98 1.15)" class="t2">group</text>
<rect x="565.88" y="549.55" width="2.94" height="2.9" rx="0.45" fill="#c0392b" stroke="#7a2418" stroke-width="0.25"/>
<text transform="translate(571.07 552.45) scale(0.98 1.15)" class="t2">control</text>
<rect x="583.81" y="549.55" width="2.94" height="2.9" rx="0.45" fill="#2f95b0" stroke="#1c5f70" stroke-width="0.25"/>
<text transform="translate(588.61 552.45) scale(0.98 1.15)" class="t2">patients</text>
<text transform="translate(526.45 554.2) scale(1.08 1)" class="L" font-size="23.1">I</text>
</svg>
</body></html>
